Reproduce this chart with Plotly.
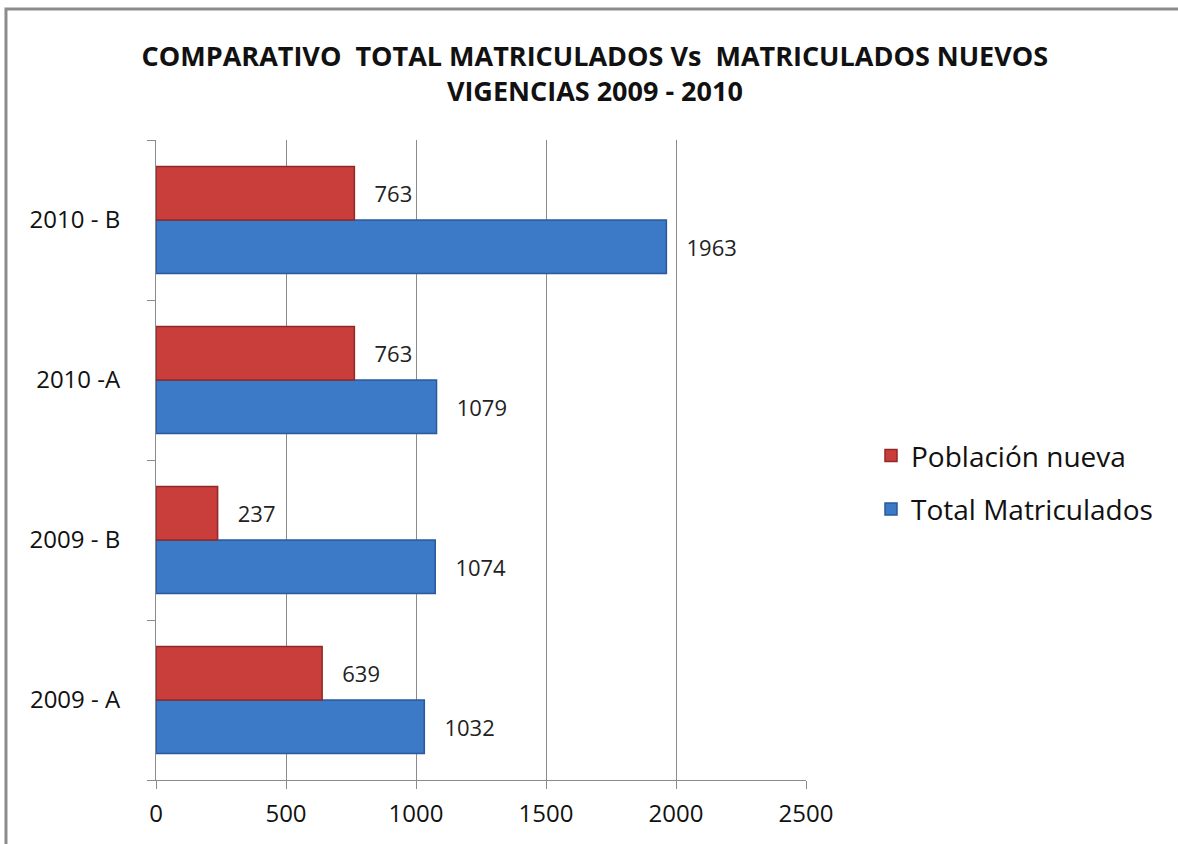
import plotly.graph_objects as go

periodos = ["2009 - A", "2009 - B", "2010 -A", "2010 - B"]
total_matriculados = [1032, 1074, 1079, 1963]
poblacion_nueva = [639, 237, 763, 763]
x_ticks = [0, 500, 1000, 1500, 2000, 2500]

fuente = "Open Sans"

fig = go.Figure()

# Plotly dibuja la primera traza abajo dentro de cada grupo
fig.add_trace(go.Bar(
    y=periodos, x=total_matriculados, orientation="h",
    name="Total Matriculados", legendgroup="total", legendrank=2,
    marker=dict(color="#3C79C6", line=dict(color="#2A5A99", width=1.5)),
    text=total_matriculados, texttemplate="   %{x}", textposition="outside",
    textfont=dict(family=fuente, size=22, color="#222222"),
    cliponaxis=False,
))
fig.add_trace(go.Bar(
    y=periodos, x=poblacion_nueva, orientation="h",
    name="Población nueva", legendgroup="nueva", legendrank=1,
    marker=dict(color="#C93D3B", line=dict(color="#8E2A28", width=1.5)),
    text=poblacion_nueva, texttemplate="   %{x}", textposition="outside",
    textfont=dict(family=fuente, size=22, color="#222222"),
    cliponaxis=False,
))

fig.update_layout(
    width=1178, height=844,
    margin=dict(l=156, r=372, t=140, b=64),
    paper_bgcolor="white", plot_bgcolor="white",
    barmode="group", bargap=0.33, bargroupgap=0,
    title=dict(
        text="<b>COMPARATIVO  TOTAL MATRICULADOS Vs  MATRICULADOS NUEVOS<br>VIGENCIAS 2009 - 2010</b>",
        x=0.505, xanchor="center", y=0.922, yanchor="top",
        font=dict(family=fuente, size=27, color="#111111"),
    ),
    legend=dict(
        traceorder="grouped", x=1.1, xanchor="left", y=0.465, yanchor="middle",
        font=dict(family=fuente, size=28, color="#111111"),
        itemwidth=30, tracegroupgap=14,
    ),
    font=dict(family=fuente),
)

fig.update_xaxes(
    range=[0, 2500], tickvals=x_ticks, showgrid=True, gridcolor="#8a8a8a", gridwidth=1,
    showline=True, linecolor="#8a8a8a", linewidth=1, ticks="outside", ticklen=8,
    tickcolor="#8a8a8a", tickfont=dict(family=fuente, size=24, color="#111111"),
    zeroline=False, ticklabelstandoff=4,
)
fig.update_yaxes(
    showline=True, linecolor="#8a8a8a", linewidth=1, ticks="outside", ticklen=8,
    tickcolor="#8a8a8a", tickson="boundaries", showgrid=False,
    tickfont=dict(family=fuente, size=24, color="#111111"), ticklabelstandoff=30,
)

# marco gris del gráfico (solo se ven los bordes superior e izquierdo)
fig.add_shape(type="rect", xref="paper", yref="paper",
              x0=-0.2308, x1=1.62, y0=-0.15, y1=1.2047,
              line=dict(color="#8c8c8c", width=3), layer="below")

# quitar el margen del body para que la figura quede en (0, 0)
fig.write_html("out.html", config={"displayModeBar": False},
               post_script="document.body.style.margin='0px';")
